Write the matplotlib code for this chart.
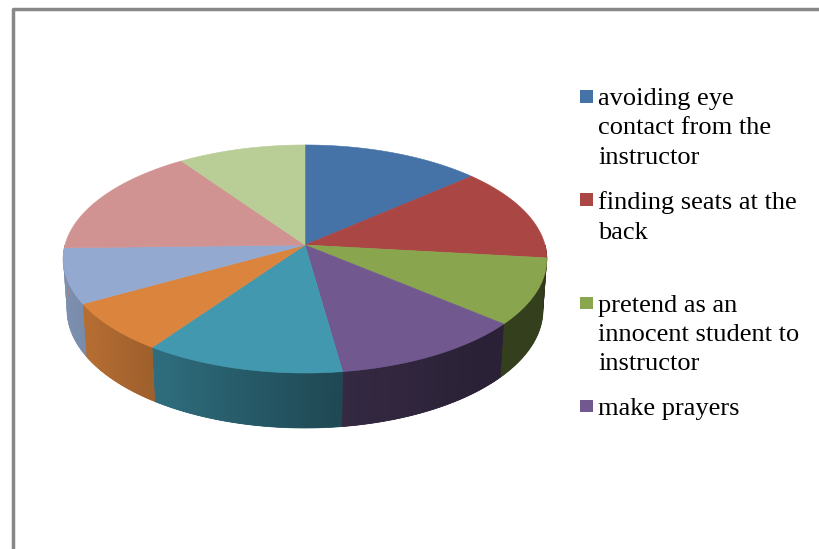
import numpy as np
import matplotlib.pyplot as plt
from matplotlib.collections import PolyCollection
from matplotlib.patches import Polygon, Rectangle
from matplotlib.colors import to_rgb

# slice shares (percent), clockwise from 12 o'clock
values = [13.5, 13.3, 9.4, 11.6, 11.9, 7.1, 7.8, 15.8, 9.6]
colors = ['#4572A7', '#AA4643', '#89A54E', '#71588F', '#4198AF',
          '#DB843D', '#93A9CF', '#D19392', '#B9CD96']
# only the first four entries fit in the legend box of the original
legend_labels = ['avoiding eye\ncontact from the\ninstructor',
                 'finding seats at the\nback',
                 'pretend as an\ninnocent student to\ninstructor',
                 'make prayers']

W, H = 819, 549

# simple perspective camera for the tilted pie (pixel units)
CX, CY = 305, 245
TILT = np.radians(27.9)
DIST = 7.2
FOCAL = 1728
DEPTH = 0.241


def project(theta, z=0.0):
    x = np.cos(theta)
    y = np.sin(theta)
    d = DIST + y * np.cos(TILT) - z * np.sin(TILT)
    sx = CX + FOCAL * x / d
    sy = CY - FOCAL * (y * np.sin(TILT) + z * np.cos(TILT)) / d
    return sx, sy


def side_shade(deg):
    return np.interp(deg % 360, [180, 215, 240, 280, 310, 360],
                     [0.87, 0.82, 0.70, 0.46, 0.38, 0.38])


fig = plt.figure(figsize=(W / 100, H / 100), dpi=100)
ax = fig.add_axes([0, 0, 1, 1])
ax.set_xlim(0, W)
ax.set_ylim(H, 0)
ax.axis('off')

# chart area border (only top and left are inside the crop)
ax.plot([13, 13, W], [H, 9, 9], color='#888888', lw=2.5, solid_capstyle='butt')

cum = np.concatenate([[0], np.cumsum(values)]) / sum(values) * 360
starts = 90 - cum[:-1]
ends = 90 - cum[1:]

# side wall, front half only: a solid backing plus shaded strips on top
quads, quad_cols = [], []
for a0, a1, col in zip(starts, ends, colors):
    lo, hi = max(a1, -180), min(a0, 0)
    if lo >= hi:
        continue
    ts = np.linspace(lo, hi, max(2, int((hi - lo) * 2) + 1))
    base = np.array(to_rgb(col))
    rt = np.radians(ts)
    outline = [project(t) for t in rt] + [project(t, -DEPTH) for t in rt[::-1]]
    mid = base * side_shade((lo + hi) / 2)
    ax.add_patch(Polygon(outline, closed=True, facecolor=mid, edgecolor=mid,
                         lw=0.5, zorder=1))
    for t0, t1 in zip(ts[:-1], ts[1:]):
        # strips overlap a little so no seams show between them
        r0, r1 = np.radians(t0), np.radians(min(t1 + 0.35, hi))
        quads.append([project(r0), project(r1),
                      project(r1, -DEPTH), project(r0, -DEPTH)])
        quad_cols.append(base * side_shade((t0 + t1) / 2))
ax.add_collection(PolyCollection(quads, facecolors=quad_cols,
                                 edgecolors='none', linewidths=0, zorder=1.5))

# top faces
for a0, a1, col in zip(starts, ends, colors):
    ts = np.radians(np.linspace(a0, a1, 120))
    pts = [(CX, CY)] + [project(t) for t in ts]
    ax.add_patch(Polygon(pts, closed=True, facecolor=col, edgecolor=col,
                         lw=0.4, zorder=2))

# legend, equal slots like the Excel original
for i, label in enumerate(legend_labels):
    top = 97 + 103.3 * i
    ax.add_patch(Rectangle((580, top - 7), 12.5, 12.5, facecolor=colors[i],
                           edgecolor='none', zorder=3))
    ax.text(598, top - 9, label, fontsize=19, family='Liberation Serif',
            va='top', ha='left', linespacing=1.43, color='black')

fig.savefig('out.png', dpi=100)
